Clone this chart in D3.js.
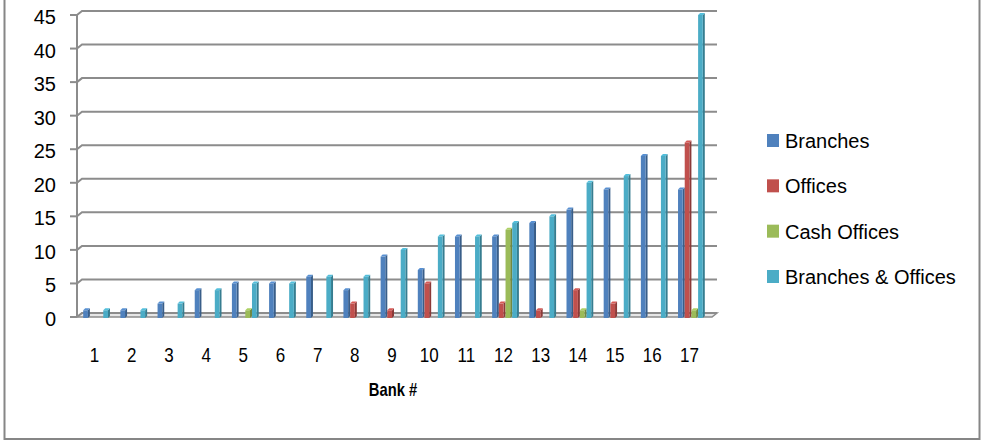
<!DOCTYPE html>
<html lang="en">
<head>
    <meta charset="UTF-8">
    <title>Bank branches and offices</title>
    <script src="https://d3js.org/d3.v7.min.js"></script>
    <style>
        body { margin: 0; background: #fff; }
        svg text { font-family: "Liberation Sans", Arial, sans-serif; fill: #000; }
        .y-label { font-size: 20px; }
        .x-label { font-size: 20px; }
        .axis-title { font-size: 18px; font-weight: bold; }
        .legend text { font-size: 20px; }
    </style>
</head>
<body>
<div id="chart"></div>
<script>
    // values
    const banks = ["1","2","3","4","5","6","7","8","9","10","11","12","13","14","15","16","17"];
    const branches        = [1, 1, 2, 4, 5, 5, 6, 4, 9, 7, 12, 12, 14, 16, 19, 24, 19];
    const offices         = [0, 0, 0, 0, 0, 0, 0, 2, 1, 5, 0, 2, 1, 4, 2, 0, 26];
    const cashOffices     = [0, 0, 0, 0, 1, 0, 0, 0, 0, 0, 0, 13, 0, 1, 0, 0, 1];
    const branchesOffices = [1, 1, 2, 4, 5, 5, 6, 6, 10, 12, 12, 14, 15, 20, 21, 24, 45];
    const yTicks = [0, 5, 10, 15, 20, 25, 30, 35, 40, 45];

    const series = [
        { name: "Branches", values: branches, color: "#4F81BD" },
        { name: "Offices", values: offices, color: "#C0504D" },
        { name: "Cash Offices", values: cashOffices, color: "#9BBB59" },
        { name: "Branches & Offices", values: branchesOffices, color: "#4BACC6" }
    ];

    const W = 981, H = 442;
    const depthX = 5, depthY = 4;   // back wall offset
    const gridColor = "#8c8c8c";

    const svg = d3.select("#chart").append("svg")
        .attr("width", W).attr("height", H);

    // chart border (top edge is cut off in the original)
    svg.append("rect")
        .attr("x", 4.5).attr("y", -10)
        .attr("width", 975).attr("height", 449)
        .attr("fill", "#fff").attr("stroke", "#868686").attr("stroke-width", 2);

    const x = d3.scaleBand().domain(banks).range([78, 710]).paddingInner(0.28).paddingOuter(0.14);
    const xs = d3.scaleBand().domain(series.map(s => s.name)).range([0, x.bandwidth()]);
    const y = d3.scaleLinear().domain([0, 45]).range([317, 15]);

    const x0 = 77, x1 = 712;

    // floor
    svg.append("path")
        .attr("d", `M${x0},${y(0)} L${x1},${y(0)} L${x1 + depthX},${y(0) - depthY} L${x0 + depthX},${y(0) - depthY} Z`)
        .attr("fill", "#e6e6e6").attr("stroke", gridColor).attr("stroke-width", 1.5);

    // gridlines on back wall
    svg.append("g").selectAll("path").data(yTicks).join("path")
        .attr("d", d => `M${x0},${y(d)} L${x0 + depthX},${y(d) - depthY} L${x1 + depthX},${y(d) - depthY}`)
        .attr("fill", "none").attr("stroke", gridColor).attr("stroke-width", 2);

    // y axis line and ticks
    svg.append("line")
        .attr("x1", x0).attr("x2", x0).attr("y1", y(45)).attr("y2", y(0))
        .attr("stroke", gridColor).attr("stroke-width", 2);
    svg.append("g").selectAll("line").data(yTicks).join("line")
        .attr("x1", x0 - 7).attr("x2", x0).attr("y1", d => y(d)).attr("y2", d => y(d))
        .attr("stroke", gridColor).attr("stroke-width", 2);
    svg.append("g").selectAll("text").data(yTicks).join("text")
        .attr("class", "y-label")
        .attr("x", 56).attr("y", d => y(d) + 2).attr("dy", "0.35em")
        .attr("text-anchor", "end")
        .text(d => d);

    // 3D bars
    const sd = 2, td = 2;
    const bw = xs.bandwidth() - sd;
    const bars = [];
    series.forEach(s => {
        s.values.forEach((v, i) => {
            if (v > 0) bars.push({ s, bank: banks[i], v });
        });
    });
    const barG = svg.append("g");
    bars.forEach(b => {
        const bx = x(b.bank) + xs(b.s.name);
        const top = y(b.v), base = y(0) + 1;
        const c = d3.color(b.s.color);
        barG.append("path")
            .attr("d", `M${bx + bw},${top} L${bx + bw + sd},${top - td} L${bx + bw + sd},${base - td} L${bx + bw},${base} Z`)
            .attr("fill", c.darker(0.9));
        barG.append("path")
            .attr("d", `M${bx},${top} L${bx + sd},${top - td} L${bx + bw + sd},${top - td} L${bx + bw},${top} Z`)
            .attr("fill", c.brighter(0.3));
        barG.append("rect")
            .attr("x", bx).attr("y", top)
            .attr("width", bw).attr("height", base - top)
            .attr("fill", b.s.color);
    });

    // category labels (narrowed to resemble the original condensed face)
    svg.append("g").selectAll("text").data(banks).join("text")
        .attr("class", "x-label")
        .attr("transform", d => `translate(${x(d) + x.bandwidth() / 2 - 2},355) scale(0.85,1)`)
        .attr("dy", "0.35em")
        .attr("text-anchor", "middle")
        .text(d => d);

    svg.append("text")
        .attr("class", "axis-title")
        .attr("transform", "translate(393,390) scale(0.82,1)")
        .attr("dy", "0.35em")
        .attr("text-anchor", "middle")
        .text("Bank #");

    // legend
    const legend = svg.append("g").attr("class", "legend");
    const ly = d3.scalePoint().domain(series.map(s => s.name)).range([140, 276]);
    series.forEach(s => {
        legend.append("rect")
            .attr("x", 767).attr("y", ly(s.name) - 6)
            .attr("width", 12).attr("height", 13)
            .attr("fill", s.color);
        legend.append("text")
            .attr("x", 785).attr("y", ly(s.name) + 1).attr("dy", "0.35em")
            .text(s.name);
    });
</script>
</body>
</html>
